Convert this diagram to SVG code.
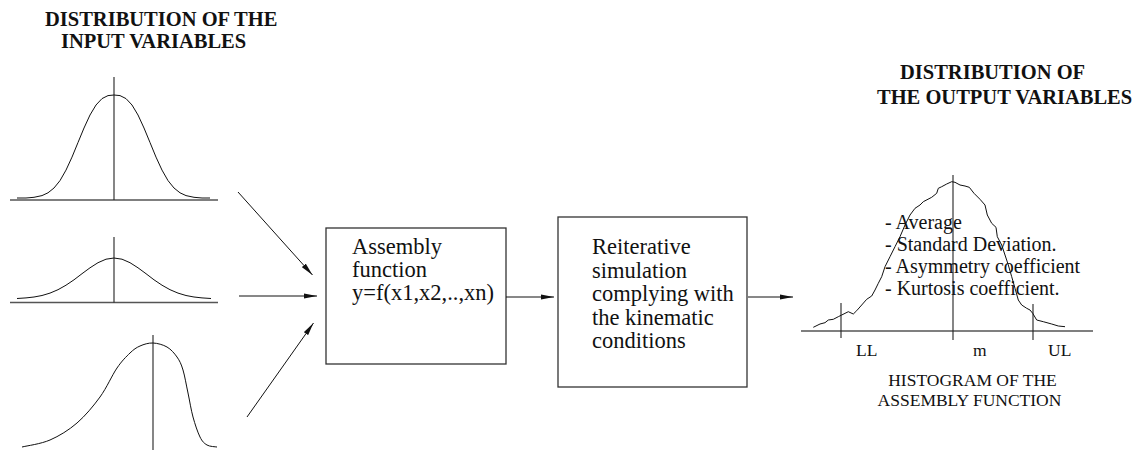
<svg xmlns="http://www.w3.org/2000/svg" width="1142" height="450" viewBox="0 0 1142 450">
<style>
.title{font-family:"Liberation Serif","Times New Roman",serif;font-weight:bold;font-size:20.5px;fill:#111}
.boxt{font-family:"Liberation Serif","Times New Roman",serif;font-size:22.5px;fill:#111}
.stat{font-family:"Liberation Serif","Times New Roman",serif;font-size:20px;fill:#111}
.lab{font-family:"Liberation Serif","Times New Roman",serif;font-size:17.5px;fill:#111}
.box{fill:#fff;stroke:#333;stroke-width:1.3}
.curve{fill:none;stroke:#111;stroke-width:1;stroke-linejoin:round}
.axis{fill:none;stroke:#555;stroke-width:1.5}
.vline{fill:none;stroke:#222;stroke-width:1.1}
.conn{fill:none;stroke:#111;stroke-width:1}
</style>
<defs>
<marker id="ah" markerUnits="userSpaceOnUse" markerWidth="14" markerHeight="6" refX="13" refY="3" orient="auto">
<path d="M0,0.4 L13,3 L0,5.6 z" fill="#111"/>
</marker>
</defs>
<rect width="1142" height="450" fill="#fff"/>

<g id="title-input">
<text class="title" x="45" y="26">DISTRIBUTION OF THE</text>
<text class="title" x="61" y="48">INPUT VARIABLES</text>
</g>

<g id="title-output">
<text class="title" x="900" y="79">DISTRIBUTION OF</text>
<text class="title" x="877" y="104">THE OUTPUT VARIABLES</text>
</g>

<g id="input-dist-1">
<line class="axis" x1="10" y1="200" x2="218" y2="200"/>
<line class="vline" x1="114" y1="77" x2="114" y2="200"/>
<polyline class="curve" points="17,198 26,198 34,197.3 42,195.6 48,192.8 54,188 60,180.6 66,170.1 72,157.1 78,142.5 84,128 90,115 96,105 102,98.6 108,95.6 114,95 120,95.6 126,98.6 132,105 138,115 144,128 150,142.5 156,157.1 162,170.1 168,180.6 174,188 180,192.8 186,195.6 194,197.3 202,198 210,198"/>
</g>

<g id="input-dist-2">
<line class="axis" x1="10" y1="302.5" x2="218" y2="302.5"/>
<line class="vline" x1="114" y1="237" x2="114" y2="302.5"/>
<polyline class="curve" points="17,298.5 26,297.9 34,297 42,295.5 50,293.1 58,289.7 66,285.2 74,279.8 82,273.7 90,267.8 98,262.7 106,259.2 114,258 122,259.2 130,262.7 138,267.8 146,273.7 154,279.8 162,285.2 170,289.7 178,293.1 186,295.5 194,297 202,297.9 211,298.5"/>
</g>

<g id="input-dist-3">
<line class="vline" x1="153" y1="335" x2="153" y2="450"/>
<path class="curve" d="M22,447 C26.7,445.8 40.8,444 50,440 C59.2,436 68.7,430.2 77,423 C85.3,415.8 93.3,406.2 100,397 C106.7,387.8 112,375.3 117,368 C122,360.7 126.2,356.7 130,353 C133.8,349.3 136.2,347.7 140,346 C143.8,344.3 148.5,342.8 153,343 C157.5,343.2 163,344.7 167,347 C171,349.3 174.3,353.2 177,357 C179.7,360.8 181.2,364 183,370 C184.8,376 186.3,385.2 188,393 C189.7,400.8 191,409.7 193,417 C195,424.3 197.7,432.3 200,437 C202.3,441.7 204.2,443.3 207,445 C209.8,446.7 215.3,446.7 217,447"/>
</g>

<g id="assembly-function">
<rect class="box" x="326" y="228" width="180" height="136"/>
<text class="boxt" x="352" y="254">Assembly</text>
<text class="boxt" x="352" y="277">function</text>
<text class="boxt" x="352" y="300">y=f(x1,x2,..,xn)</text>
</g>

<g id="reiterative-simulation">
<rect class="box" x="558" y="217" width="189" height="170"/>
<text class="boxt" x="592" y="254">Reiterative</text>
<text class="boxt" x="592" y="277.5">simulation</text>
<text class="boxt" x="592" y="301">complying with</text>
<text class="boxt" x="592" y="324.5">the kinematic</text>
<text class="boxt" x="592" y="348">conditions</text>
</g>

<g id="output-histogram">
<line class="axis" x1="801" y1="331" x2="1093" y2="331"/>
<line class="vline" x1="953" y1="175" x2="953" y2="340"/>
<line class="vline" x1="841" y1="303" x2="841" y2="338"/>
<line class="vline" x1="1033" y1="304" x2="1033" y2="340"/>
<polyline class="curve" points="813.3,327.3 820,324 825,322.7 828.3,320 833.3,319.3 838.3,316.7 841.7,315 848.3,311.7 853.3,314 856.7,310.7 861.7,305 866.7,299.3 871.7,296 875,290 878.3,283.3 881.7,276.7 885,266.7 890,256.7 895,246.7 900,236.7 905,225 910,215 915,208.3 920,205 923.3,201.7 931.7,197.3 936.7,193.3 938.3,188.3 941.7,186.7 946.7,184 951.7,181.7 955,182.3 960,185 965,186 969.3,187.3 974,193.3 980,199.3 985,205 987.3,215 991.7,223.3 996,227.3 997.3,236.7 1001.7,245 1005,255 1008.3,265 1011.7,276.7 1015,288.3 1018.3,300 1021.7,305 1026.7,308.3 1030,310 1032.7,313.3 1036.7,320 1043.3,321.7 1051.7,324 1058.3,326 1065,326.7"/>
<text class="stat" x="885" y="229">- Average</text>
<text class="stat" x="885" y="251">- Standard Deviation.</text>
<text class="stat" x="885" y="273">- Asymmetry coefficient</text>
<text class="stat" x="885" y="295">- Kurtosis coefficient.</text>
<text class="lab" x="856" y="356">LL</text>
<text class="lab" x="973" y="356">m</text>
<text class="lab" x="1048" y="356">UL</text>
<text class="lab" x="972.5" y="386" text-anchor="middle">HISTOGRAM OF THE</text>
<text class="lab" x="969.5" y="406" text-anchor="middle">ASSEMBLY FUNCTION</text>
</g>

<g id="connectors">
<line class="conn" x1="238" y1="192" x2="312.5" y2="275" marker-end="url(#ah)"/>
<line class="conn" x1="239" y1="296" x2="317" y2="296" marker-end="url(#ah)"/>
<line class="conn" x1="247" y1="417" x2="313.5" y2="323" marker-end="url(#ah)"/>
<line class="conn" x1="506" y1="297" x2="554" y2="297" marker-end="url(#ah)"/>
<line class="conn" x1="748" y1="297" x2="793" y2="297" marker-end="url(#ah)"/>
</g>
</svg>
